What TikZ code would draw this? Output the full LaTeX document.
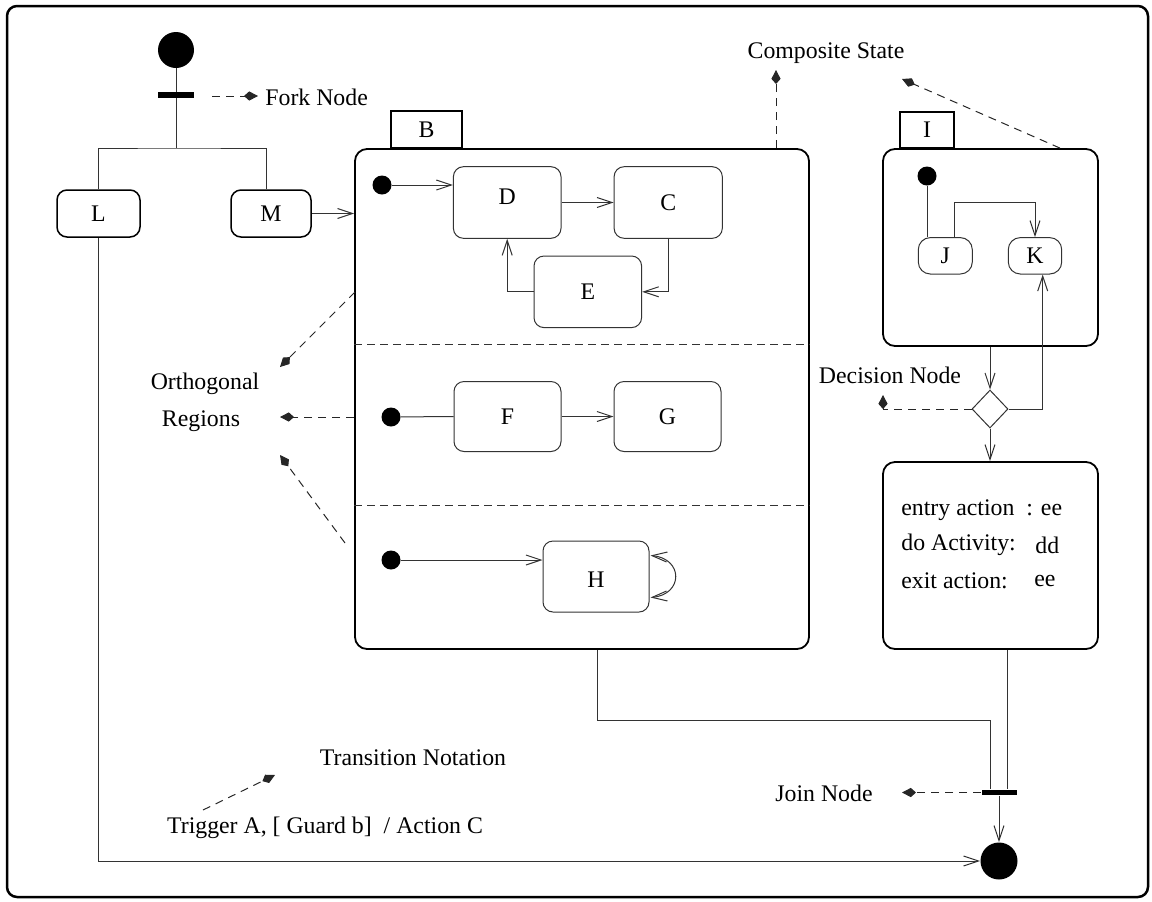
\documentclass[tikz,border=0pt]{standalone}
\usepackage{fontspec}
\setmainfont{Liberation Serif}
\usetikzlibrary{arrows.meta,calc,shapes.geometric}
\begin{document}
\begin{tikzpicture}[x=0.5pt,y=-0.5pt,
  every node/.style={font=\fontsize{11.9}{14}\selectfont, inner sep=0pt},
  st/.style={draw=black!80, line width=0.5pt, rounded corners=5pt},
  big/.style={draw, line width=0.9pt, rounded corners=6pt},
  tab/.style={draw, line width=0.8pt},
  dot/.style={circle, fill, minimum size=9.5pt},
  bigdot/.style={circle, fill, minimum size=18pt},
  bar/.style={fill, rectangle},
  ln/.style={draw=black!80, line width=0.5pt},
  tr/.style={ln, -{Straight Barb[length=7.5pt,width=5pt]}},
  note/.style={draw=black!85, line width=0.5pt, dash pattern=on 4pt off 3pt, -{Kite[length=7pt,width=4.6pt,inset=2.6pt]}}]
\useasboundingbox (0,0) rectangle (1152,901);
\draw[line width=1.25pt, rounded corners=5pt] (7,6) rectangle (1148,897);

% fork part
\node[bigdot] (init) at (176,50) {};
\node[bar, minimum width=18pt, minimum height=3pt] (fork) at (176,95) {};
\coordinate (fj) at (176,148);
\node[st, draw=black, line width=0.75pt, minimum width=41.5pt, minimum height=23.5pt] (L) at (98.5,213.5) {L};
\node[st, draw=black, line width=0.75pt, minimum width=40pt, minimum height=23.5pt] (M) at (271,213.5) {M};
\draw[ln] (init) -- (fork);
\draw[ln] (fork) -- (fj);
\draw[ln] (L.north) |- (fj) -| ($(M.north)+(-5,0)$);
\coordinate (fn1) at (212,96);
\coordinate (fn2) at (258,96);
\draw[note] (fn1) -- (fn2);
\node[anchor=west] (forklbl) at (265,97) {Fork Node};

% composite B
\node[big, minimum width=227pt, minimum height=250pt] (B) at (582,399) {};
\node[tab, minimum width=35.5pt, minimum height=18.5pt, anchor=south] (Btab) at (426.5,149) {B};
\draw[tr] (M.east) -- (M.east -| B.west);
\draw[ln, dash pattern=on 4pt off 2.5pt] ($(B.north west)+(0,196)$) -- ($(B.north east)+(0,196)$);
\draw[ln, dash pattern=on 4pt off 2.5pt] ($(B.north west)+(0,357)$) -- ($(B.north east)+(0,357)$);

% region 1
\node[dot] (b1) at (382,185) {};
\node[st, minimum width=53.8pt, minimum height=35.8pt, label={[yshift=3pt]center:D}] (D) at (507.2,202.5) {};
\node[st, minimum width=54.1pt, minimum height=35.8pt] (C) at (668.2,202.5) {C};
\node[st, minimum width=53.8pt, minimum height=35.8pt] (E) at (587.8,291.8) {E};
\draw[tr] (b1) -- (b1 -| D.west);
\draw[tr] (D) -- (C);
\draw[tr] (C.south) |- (E.east);
\draw[tr] (E.west) -| (D.south);

% region 2
\node[dot] (b2) at (391,417) {};
\node[st, minimum width=53.5pt, minimum height=35pt] (F) at (507.5,416.5) {F};
\node[st, minimum width=53.5pt, minimum height=35pt] (G) at (667.5,416.5) {G};
\draw[ln] (b2) -- (F.west);
\draw[tr] (F) -- (G);

% region 3
\node[dot] (b3) at (391,560) {};
\node[st, minimum width=53pt, minimum height=35.5pt, label={[yshift=-1.5pt]center:H}] (H) at (596,576.5) {};
\draw[tr] (b3) -- (b3 -| H.west);
\draw[ln, {Straight Barb[length=7.5pt,width=5pt]}-{Straight Barb[length=7.5pt,width=5pt]}]
  ($(H.east)+(1,-21)$) .. controls ($(H.east)+(34,-18)$) and ($(H.east)+(34,18)$) .. ($(H.east)+(1,21)$);

% composite I
\node[big, minimum width=107.5pt, minimum height=98.5pt] (I) at (990.5,247.5) {};
\node[tab, minimum width=27pt, minimum height=18pt, anchor=south] (Itab) at (927,149) {I};
\node[dot] (i0) at (927,176) {};
\node[st, minimum width=27pt, minimum height=18.2pt, rounded corners=6pt] (J) at (945.3,255.8) {J};
\node[st, minimum width=26.7pt, minimum height=18.2pt, rounded corners=6pt] (K) at (1035,255.8) {K};
\draw[ln] (i0) -- (i0 |- J.north);
\draw[tr] ($(J.north)+(9,0)$) |- ($(K.north)+(0,-35)$) -- (K.north);

% decision
\node[diamond, draw=black!80, line width=0.5pt, minimum width=18pt, minimum height=19pt] (dm) at (990,409) {};
\draw[tr] (I.south -| dm.north) -- (dm.north);
\draw[tr] (dm.east) -| ($(K.south)+(7.7,0)$);
\coordinate (dn) at (883,395);
\draw[note] (dm.west) -| (dn);
\node (declbl) at (890,375) {Decision Node};

% entry box
\node[big, minimum width=107.5pt, minimum height=93.5pt] (EB) at (990.5,555.5) {};
\draw[tr] (dm.south) -- (dm.south |- EB.north);
\node[anchor=west] (e1) at (901,510) {entry action};
\node[anchor=west] (e1v) at (1026,510) {: ee};
\node[anchor=west] (e2) at (901,545) {do Activity:};
\node[anchor=west] (e2v) at (1035,545) {dd};
\node[anchor=west] (e3) at (901,581) {exit action:};
\node[anchor=west] (e3v) at (1034,581) {ee};

% join
\node[bar, minimum width=17.5pt, minimum height=2.8pt] (jb) at (999,792.5) {};
\node[bigdot, minimum size=18.5pt] (fin) at (999,861) {};
\coordinate (jl) at ($(jb.north)+(-9,0)$);
\coordinate (jr) at ($(jb.north)+(8.5,0)$);
\draw[ln] ($(B.south)+(15,0)$) -- ++(0,71) -| (jl);
\draw[ln] (jr |- EB.south) -- (jr);
\draw[tr] (jb.south) -- (fin.north);
\draw[tr] (L.south) |- (fin.west);
\coordinate (jn) at (902,792.5);
\draw[note] (jb.west) -- (jn);
\node (joinlbl) at (824,793) {Join Node};

% composite state note
\node (complbl) at (826,53) {Composite State};
\coordinate (cs1) at (776,70);
\coordinate (cs2) at (902,79);
\draw[note] ($(B.north)+(194,0)$) -- (cs1);
\draw[note] ($(I.north)+(69.5,0)$) -- (cs2);

% orthogonal regions note
\node (or1) at (205,384) {Orthogonal};
\node (or2) at (201,421) {Regions};
\coordinate (oa1) at (355,292);
\coordinate (oa1t) at (280,367);
\coordinate (oa2t) at (280,417);
\coordinate (oa3) at (345,543);
\coordinate (oa3t) at (280,455);
\draw[note] (oa1) -- (oa1t);
\draw[note] (b2 -| B.west) -- (oa2t);
\draw[note] (oa3) -- (oa3t);

% transition notation
\node (tn) at (413,758) {Transition Notation};
\node (tg) at (325,828) {Trigger A, [ Guard b]\ \ / Action C};
\coordinate (ta1) at (203,810);
\coordinate (ta2) at (275,775);
\draw[note] (ta1) -- (ta2);
\end{tikzpicture}
\end{document}
